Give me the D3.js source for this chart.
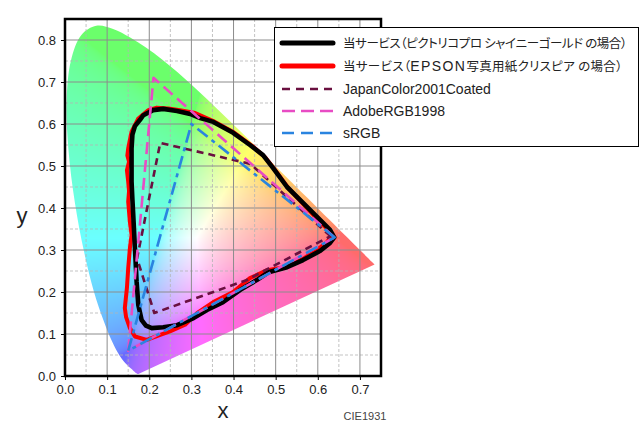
<!DOCTYPE html>
<html><head><meta charset="utf-8">
<script src="https://cdn.jsdelivr.net/npm/d3@7"></script>
<style>body{margin:0;background:#fff}svg{display:block}</style>
</head><body>
<svg id="chart" width="640" height="425"></svg>
<script>
// ---- data ----
const xTickValues = [0.0,0.1,0.2,0.3,0.4,0.5,0.6,0.7];
const yTickValues = [0.0,0.1,0.2,0.3,0.4,0.5,0.6,0.7,0.8];
const xMinorValues = [0.05,0.15,0.25,0.35,0.45,0.55,0.65];
const yMinorValues = [0.05,0.15,0.25,0.35,0.45,0.55,0.65,0.75];

// CIE 1931 spectral locus (380-700 nm)
const locusX = [0.1741,0.1740,0.1738,0.1736,0.1733,0.1730,0.1726,0.1721,0.1714,0.1703,0.1689,0.1669,0.1644,0.1611,0.1566,0.1510,0.1440,0.1355,0.1241,0.1096,0.0913,0.0687,0.0454,0.0235,0.0082,0.0039,0.0139,0.0389,0.0743,0.1142,0.1547,0.1929,0.2296,0.2658,0.3016,0.3373,0.3731,0.4087,0.4441,0.4788,0.5125,0.5448,0.5752,0.6029,0.6270,0.6482,0.6658,0.6801,0.6915,0.7006,0.7079,0.7140,0.7190,0.7230,0.7260,0.7300,0.7334,0.7347];
const locusY = [0.0050,0.0050,0.0049,0.0049,0.0048,0.0048,0.0048,0.0048,0.0051,0.0058,0.0069,0.0086,0.0109,0.0138,0.0177,0.0227,0.0297,0.0399,0.0578,0.0868,0.1327,0.2007,0.2950,0.4127,0.5384,0.6548,0.7502,0.8120,0.8338,0.8262,0.8059,0.7816,0.7543,0.7243,0.6923,0.6589,0.6245,0.5896,0.5547,0.5202,0.4866,0.4544,0.4242,0.3965,0.3725,0.3514,0.3340,0.3197,0.3083,0.2993,0.2920,0.2859,0.2809,0.2770,0.2740,0.2700,0.2666,0.2653];

// 当サービス (ピクトリコプロ シャイニーゴールド)
const blackX = [0.178,0.186,0.209,0.233,0.266,0.297,0.321,0.352,0.399,0.439,0.470,0.494,0.527,0.565,0.606,0.629,0.639,0.629,0.606,0.565,0.527,0.483,0.456,0.416,0.375,0.337,0.305,0.266,0.233,0.206,0.192,0.182,0.174,0.170,0.166,0.162,0.160,0.158,0.158,0.160,0.166];
const blackY = [0.610,0.621,0.633,0.636,0.631,0.624,0.614,0.605,0.579,0.550,0.526,0.495,0.450,0.412,0.371,0.348,0.330,0.317,0.298,0.276,0.259,0.247,0.229,0.205,0.176,0.157,0.138,0.121,0.116,0.114,0.120,0.133,0.169,0.224,0.304,0.383,0.420,0.463,0.542,0.575,0.595];

// 当サービス (EPSON写真用紙クリスピア)
const redX = [0.174,0.198,0.218,0.245,0.273,0.309,0.352,0.399,0.444,0.475,0.499,0.530,0.565,0.601,0.625,0.632,0.622,0.601,0.565,0.527,0.480,0.439,0.399,0.352,0.314,0.285,0.249,0.226,0.194,0.166,0.154,0.145,0.142,0.147,0.150,0.154,0.158,0.154,0.150,0.152,0.150,0.147,0.152,0.148,0.150,0.158];
const redY = [0.613,0.633,0.639,0.637,0.633,0.626,0.607,0.581,0.548,0.521,0.490,0.448,0.410,0.371,0.348,0.333,0.319,0.302,0.279,0.260,0.252,0.233,0.200,0.176,0.150,0.122,0.106,0.098,0.086,0.094,0.114,0.140,0.162,0.210,0.256,0.304,0.336,0.367,0.415,0.440,0.463,0.490,0.510,0.525,0.542,0.582];

const japanX = [0.630,0.440,0.226,0.171,0.212,0.430];
const japanY = [0.333,0.505,0.555,0.280,0.150,0.228];
const adobeX = [0.64,0.21,0.15];
const adobeY = [0.33,0.71,0.06];
const srgbX = [0.64,0.30,0.15];
const srgbY = [0.33,0.60,0.06];

const legendLabels = ["当サービス（ピクトリコプロ シャイニーゴールド の場合）","当サービス（EPSON写真用紙クリスピア の場合）","JapanColor2001Coated","AdobeRGB1998","sRGB"];
const legendColors = ["#000000","#ff0000","#6a1040","#e84cc4","#2a84e0"];

// ---- layout ----
const L = 65, R = 381, T = 19, B = 376;
const xs = d3.scaleLinear().domain([0,0.75]).range([L,R]);
const ys = d3.scaleLinear().domain([0,0.85]).range([B,T]);
const svg = d3.select("#chart");
const zip = (a,b)=>a.map((v,i)=>[v,b[i]]);

const styles = [
  {w:4.6, dash:null},
  {w:4.0, dash:null},
  {w:2.6, dash:"7,5"},
  {w:2.6, dash:"12,6"},
  {w:2.6, dash:"13,5,4,5"}
];

// chromaticity colour image
const W = R-L, H = B-T;
const cv = document.createElement("canvas"); cv.width = W; cv.height = H;
const ctx = cv.getContext("2d");
const img = ctx.createImageData(W,H);
const gam = v => v<=0.0031308 ? 12.92*v : 1.055*Math.pow(v,1/2.4)-0.055;
const k = 0.58;
for (let j=0;j<H;j++){
  for (let i=0;i<W;i++){
    const x = xs.invert(L+i+0.5), y = ys.invert(T+j+0.5);
    let r=1,g=1,b=1;
    if (y>0.001){
      const X=x/y, Y=1, Z=(1-x-y)/y;
      r = Math.max(0, 3.2406*X-1.5372*Y-0.4986*Z);
      g = Math.max(0,-0.9689*X+1.8758*Y+0.0415*Z);
      b = Math.max(0, 0.0557*X-0.2040*Y+1.0570*Z);
      const m = Math.max(r,g,b)||1;
      r=gam(r/m); g=gam(g/m); b=gam(b/m);
    }
    const p=(j*W+i)*4;
    img.data[p]=255*(r*k+1-k); img.data[p+1]=255*(g*k+1-k); img.data[p+2]=255*(b*k+1-k); img.data[p+3]=255;
  }
}
ctx.putImageData(img,0,0);

const defs = svg.append("defs");
const locusPath = d3.line().x(d=>xs(d[0])).y(d=>ys(d[1])).curve(d3.curveCatmullRom)(zip(locusX,locusY)) + "Z";
defs.append("clipPath").attr("id","locus").append("path").attr("d", locusPath);
svg.append("image").attr("x",L).attr("y",T).attr("width",W).attr("height",H)
  .attr("href", cv.toDataURL()).attr("clip-path","url(#locus)");

// grid
const grid = svg.append("g");
grid.selectAll(".vm").data(xMinorValues).join("line").attr("x1",d=>xs(d)).attr("x2",d=>xs(d)).attr("y1",T).attr("y2",B)
  .attr("stroke","#b4b4b4").attr("stroke-width",0.8).attr("stroke-dasharray","3,2");
grid.selectAll(".hm").data(yMinorValues).join("line").attr("y1",d=>ys(d)).attr("y2",d=>ys(d)).attr("x1",L).attr("x2",R)
  .attr("stroke","#b4b4b4").attr("stroke-width",0.8).attr("stroke-dasharray","3,2");
grid.selectAll(".vM").data(xTickValues.slice(1)).join("line").attr("x1",d=>xs(d)).attr("x2",d=>xs(d)).attr("y1",T).attr("y2",B)
  .attr("stroke","#8c8c8c").attr("stroke-width",1);
grid.selectAll(".hM").data(yTickValues.slice(1)).join("line").attr("y1",d=>ys(d)).attr("y2",d=>ys(d)).attr("x1",L).attr("x2",R)
  .attr("stroke","#8c8c8c").attr("stroke-width",1);

// series
const poly = d3.line().x(d=>xs(d[0])).y(d=>ys(d[1])).curve(d3.curveLinearClosed);
const series = [zip(blackX,blackY), zip(redX,redY), zip(japanX,japanY), zip(adobeX,adobeY), zip(srgbX,srgbY)];
const order = [1,0,2,3,4];
order.forEach(i=>{
  svg.append("path").attr("d",poly(series[i])).attr("fill","none")
    .attr("stroke",legendColors[i]).attr("stroke-width",styles[i].w)
    .attr("stroke-dasharray",styles[i].dash).attr("stroke-linejoin","round");
});

// axes
const fontLatin = "Liberation Sans, Arial, sans-serif";
const xAxis = svg.append("g").attr("transform",`translate(0,${B})`)
  .call(d3.axisBottom(xs).tickValues(xTickValues).tickFormat(d3.format(".1f")).tickSize(4).tickPadding(5));
const yAxis = svg.append("g").attr("transform",`translate(${L},0)`)
  .call(d3.axisLeft(ys).tickValues(yTickValues).tickFormat(d3.format(".1f")).tickSize(4).tickPadding(5));
[xAxis,yAxis].forEach(a=>{
  a.select(".domain").remove();
  a.selectAll("text").attr("font-family",fontLatin).attr("font-size",13).attr("fill","#222");
  a.selectAll("line").attr("stroke","#000");
});
svg.append("rect").attr("x",L).attr("y",T).attr("width",W).attr("height",H)
  .attr("fill","none").attr("stroke","#000").attr("stroke-width",2.5);

svg.append("text").attr("x",223).attr("y",418).attr("text-anchor","middle")
  .attr("font-family",fontLatin).attr("font-size",22).attr("fill","#222").text("x");
svg.append("text").attr("x",22).attr("y",223).attr("text-anchor","middle")
  .attr("font-family",fontLatin).attr("font-size",22).attr("fill","#222").text("y");
svg.append("text").attr("x",365).attr("y",420).attr("text-anchor","middle")
  .attr("font-family",fontLatin).attr("font-size",11).attr("fill","#444").text("CIE1931");

// legend
const lg = svg.append("g");
lg.append("rect").attr("x",274.5).attr("y",27.5).attr("width",364).attr("height",119)
  .attr("fill","#fff").attr("stroke","#000").attr("stroke-width",1);
const rowY = [43,66,89,111,133];
const cjkSpacing = [-0.4,0.3];
legendLabels.forEach((lab,i)=>{
  lg.append("line").attr("x1",282).attr("x2",333).attr("y1",rowY[i]).attr("y2",rowY[i])
    .attr("stroke",legendColors[i]).attr("stroke-width",i<2?5:2.6).attr("stroke-dasharray",
      i===2?"8,6":i===3?"13,6":i===4?"12,7":null).attr("stroke-linecap",i<2?"round":"butt");
  const t = lg.append("text").attr("x",343).attr("y",rowY[i]+5).attr("fill","#222");
  const parts = lab.split(/([A-Za-z0-9]+)/).filter(s=>s.length);
  parts.forEach(s=>{
    const latin = /^[A-Za-z0-9]+$/.test(s);
    const ts = t.append("tspan").text(s);
    if (latin) {
      ts.attr("font-family",fontLatin).attr("font-size",14).attr("letter-spacing", i<2 ? 1.4 : 0);
    } else {
      ts.attr("font-family","'Noto Sans CJK JP', sans-serif").attr("font-size",12.5)
        .style("font-feature-settings","'palt' 1").attr("letter-spacing",cjkSpacing[i]);
    }
  });
});
</script>
</body></html>
